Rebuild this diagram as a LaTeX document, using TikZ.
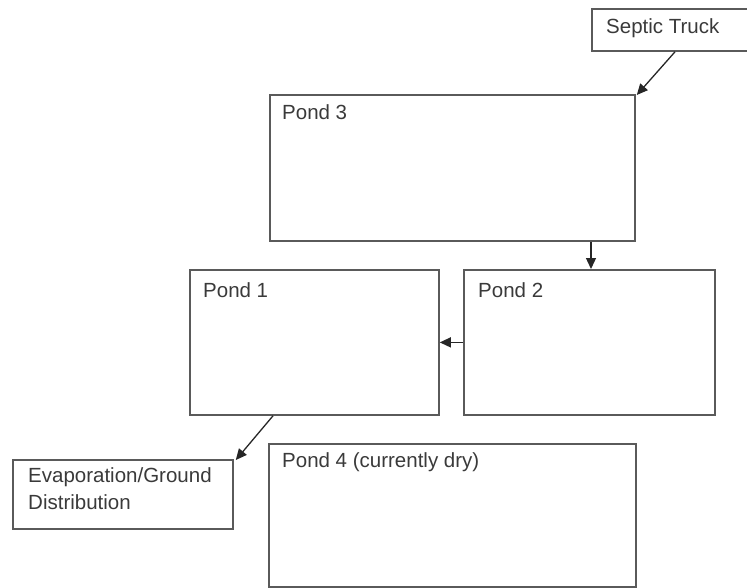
\documentclass[tikz,border=0pt]{standalone}
\usepackage{fontspec}
\setmainfont{Liberation Sans}
\usetikzlibrary{arrows.meta}
\definecolor{boxline}{HTML}{5A5A5A}
\definecolor{txt}{HTML}{3A3A3A}
\begin{document}
\begin{tikzpicture}[x=1pt,y=-1pt,
  pondbox/.style={draw=boxline,line width=1.8pt,rectangle,inner sep=0pt,anchor=north west},
  lbl/.style={text=txt,font=\fontsize{20.5}{27}\selectfont,anchor=west,inner sep=0pt,align=left},
  arr/.style={draw=black!85,line width=1.3pt,-{Triangle[length=11pt,width=10pt]}}]
\useasboundingbox (0,0) rectangle (747,588);
\clip (0,0) rectangle (747,588);
\node[pondbox,minimum width=169pt,minimum height=42pt] (truck) at (591,8) {};
\node[pondbox,minimum width=365pt,minimum height=146pt] (p3) at (269,94) {};
\node[pondbox,minimum width=251pt,minimum height=145pt] (p2) at (463,269) {};
\node[pondbox,minimum width=249pt,minimum height=145pt] (p1) at (189,269) {};
\node[pondbox,minimum width=367pt,minimum height=143pt] (p4) at (268,443) {};
\node[pondbox,minimum width=220pt,minimum height=69pt] (evap) at (12,459) {};
\node[lbl] (trucklbl) at ([xshift=15pt,yshift=-20pt]truck.north west) {Septic Truck};
\node[lbl] (p3lbl) at ([xshift=13pt,yshift=-18pt]p3.north west) {Pond 3};
\node[lbl] (p2lbl) at ([xshift=15pt,yshift=-21pt]p2.north west) {Pond 2};
\node[lbl] (p1lbl) at ([xshift=14pt,yshift=-21pt]p1.north west) {Pond 1};
\node[lbl] (p4lbl) at ([xshift=14pt,yshift=-19pt]p4.north west) {Pond 4 (currently dry)};
\node[lbl,anchor=north west] (evaplbl) at ([xshift=16pt,yshift=-8pt]evap.north west) {Evaporation/Ground\\Distribution};
\draw[arr] ([xshift=84pt]truck.south west) -- ([xshift=1pt,yshift=-1pt]p3.north east);
\draw[arr] ([xshift=322pt]p3.south west) -- ([xshift=322pt]p3.south west |- p2.north);
\draw[arr] (p2.west) -- (p1.east);
\draw[arr] ([xshift=84pt]p1.south west) -- ([xshift=2pt,yshift=-1pt]evap.north east);
\end{tikzpicture}
\end{document}
